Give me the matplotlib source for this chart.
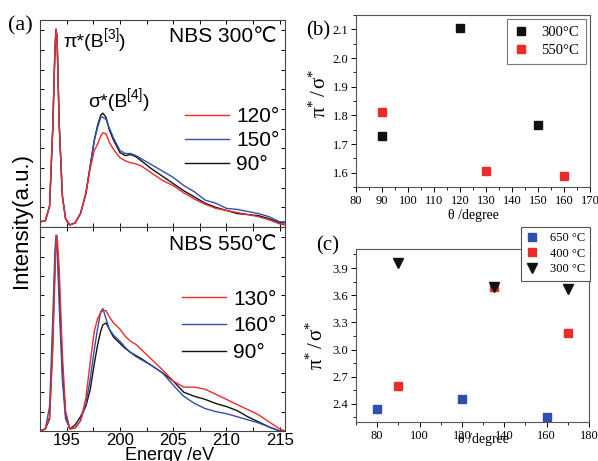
import matplotlib

matplotlib.use("Agg")
import matplotlib.pyplot as plt
from matplotlib.ticker import MultipleLocator

plt.rcParams["mathtext.fontset"] = "custom"
plt.rcParams["mathtext.rm"] = "Liberation Serif"
plt.rcParams["mathtext.it"] = "Liberation Serif:italic"

SANS = ["Liberation Sans", "DejaVu Sans"]
SERIF = ["Liberation Serif", "DejaVu Serif"]
RED = "#ee2b2b"
BLUE = "#2f4fae"
BLACK = "#111111"

# ---- (a) B K-edge spectra (normalised intensity) ----
energy = [192.5, 193.0, 193.4, 193.7, 193.9, 194.0, 194.1, 194.3, 194.6, 194.9,
          195.3, 195.8, 196.3, 196.8, 197.2, 197.6, 197.9, 198.2, 198.4, 198.7,
          199.0, 199.4, 200.0, 200.5, 201.0, 201.5, 202.0, 203.0, 204.0, 205.0,
          206.0, 207.0, 208.0, 209.0, 210.0, 211.0, 212.0, 213.0, 214.0, 215.0,
          215.5]

# NBS 300 C
top_120 = [0.025, 0.03, 0.10, 0.48, 0.85, 0.955, 0.92, 0.50, 0.15, 0.04,
           0.01, 0.02, 0.065, 0.16, 0.28, 0.37, 0.40, 0.44, 0.455, 0.45,
           0.41, 0.375, 0.335, 0.32, 0.31, 0.305, 0.295, 0.26, 0.225, 0.20,
           0.165, 0.135, 0.11, 0.09, 0.08, 0.07, 0.06, 0.05, 0.035, 0.015,
           0.01]
top_150 = [0.025, 0.03, 0.10, 0.48, 0.85, 0.955, 0.92, 0.50, 0.15, 0.04,
           0.01, 0.02, 0.065, 0.16, 0.29, 0.42, 0.48, 0.53, 0.53, 0.52,
           0.48, 0.43, 0.37, 0.355, 0.355, 0.345, 0.33, 0.30, 0.27, 0.24,
           0.20, 0.17, 0.13, 0.115, 0.09, 0.085, 0.075, 0.065, 0.05, 0.025,
           0.025]
top_90 = [0.025, 0.03, 0.10, 0.48, 0.85, 0.955, 0.92, 0.50, 0.15, 0.04,
          0.01, 0.02, 0.065, 0.16, 0.29, 0.42, 0.49, 0.54, 0.55, 0.53,
          0.47, 0.42, 0.36, 0.345, 0.35, 0.34, 0.32, 0.28, 0.245, 0.21,
          0.175, 0.145, 0.115, 0.095, 0.08, 0.065, 0.06, 0.055, 0.04, 0.02,
          0.02]

# NBS 550 C
bot_130 = [0.0, 0.01, 0.07, 0.40, 0.75, 0.90, 0.96, 0.80, 0.38, 0.10,
           0.01, 0.015, 0.05, 0.16, 0.33, 0.49, 0.55, 0.58, 0.59, 0.59,
           0.56, 0.53, 0.50, 0.465, 0.44, 0.425, 0.40, 0.35, 0.30, 0.245,
           0.215, 0.215, 0.205, 0.18, 0.155, 0.13, 0.105, 0.08, 0.045, 0.01,
           0.0]
bot_160 = [0.0, 0.01, 0.12, 0.55, 0.88, 0.96, 0.92, 0.62, 0.25, 0.06,
           0.01, 0.015, 0.05, 0.13, 0.25, 0.40, 0.50, 0.585, 0.60, 0.55,
           0.50, 0.47, 0.44, 0.41, 0.385, 0.365, 0.35, 0.32, 0.285, 0.225,
           0.17, 0.135, 0.11, 0.095, 0.085, 0.07, 0.055, 0.04, 0.02, 0.0,
           0.0]
bot_90 = [0.0, 0.01, 0.06, 0.45, 0.82, 0.93, 0.93, 0.70, 0.30, 0.08,
          0.01, 0.03, 0.07, 0.12, 0.20, 0.33, 0.42, 0.49, 0.52, 0.53,
          0.50, 0.46, 0.43, 0.405, 0.385, 0.37, 0.355, 0.32, 0.285, 0.245,
          0.19, 0.17, 0.155, 0.135, 0.12, 0.10, 0.07, 0.045, 0.02, 0.0,
          0.0]

# ---- (b) pi*/sigma* ratio vs angle ----
b_theta_300 = [90, 120, 150]
b_ratio_300 = [1.727, 2.105, 1.768]
b_theta_550 = [90, 130, 160]
b_ratio_550 = [1.81, 1.605, 1.59]

# ---- (c) pi*/sigma* ratio vs angle ----
c_theta_650 = [80, 120, 160]
c_ratio_650 = [2.345, 2.45, 2.26]
c_theta_400 = [90, 135, 170]
c_ratio_400 = [2.595, 3.69, 3.18]
c_theta_300 = [90, 135, 170]
c_ratio_300 = [3.96, 3.69, 3.665]

W, H = 598, 461
fig = plt.figure(figsize=(W / 100, H / 100), dpi=100)


def rect(x0, y0, x1, y1):
    """pixel box (top-left origin) -> figure fraction rect"""
    return [x0 / W, 1 - y1 / H, (x1 - x0) / W, (y1 - y0) / H]


def spectrum_axes(ax, show_labels):
    ax.set_xlim(192.5, 215.5)
    ax.set_ylim(0, 1)
    ax.xaxis.set_major_locator(MultipleLocator(5))
    ax.xaxis.set_minor_locator(MultipleLocator(2.5))
    ax.yaxis.set_major_locator(MultipleLocator(0.095))
    ax.tick_params(which="both", direction="in", length=3, width=0.7,
                   top=True, right=True, labelleft=False, pad=1.5,
                   labelfontfamily=SANS)
    ax.tick_params(axis="x", labelbottom=show_labels, labelsize=12)
    for s in ax.spines.values():
        s.set_linewidth(0.8)
        s.set_color("#444444")


def superscript_label(ax, x, y, base, sup):
    t1 = ax.text(x, y, base, transform=ax.transAxes, fontsize=14,
                 family=SANS, va="baseline")
    t2 = ax.annotate(sup, xy=(1, 0.55), xycoords=t1, fontsize=10,
                     family=SANS, va="bottom", ha="left")
    ax.annotate(")", xy=(1, 0), xycoords=(t2, t1), fontsize=14,
                family=SANS, va="bottom", ha="left")


ax_top = fig.add_axes(rect(40, 20, 285, 227))
ax_top.plot(energy, top_90, color=BLACK, lw=1.0, label="90°")
ax_top.plot(energy, top_150, color=BLUE, lw=1.0, label="150°")
ax_top.plot(energy, top_120, color=RED, lw=1.0, label="120°")
spectrum_axes(ax_top, False)
h, l = ax_top.get_legend_handles_labels()
ax_top.legend([h[2], h[1], h[0]], [l[2], l[1], l[0]], loc="upper left",
              bbox_to_anchor=(0.592, 0.58), frameon=False, borderpad=0,
              borderaxespad=0, handlelength=2.1, handletextpad=0.35,
              labelspacing=0.25, prop={"family": SANS, "size": 15})
ax_top.text(0.967, 0.965, "NBS 300℃", transform=ax_top.transAxes,
            ha="right", va="top", fontsize=15, family=SANS)
superscript_label(ax_top, 0.094, 0.87, "π*(B", "[3]")
superscript_label(ax_top, 0.196, 0.58, "σ*(B", "[4]")

ax_bot = fig.add_axes(rect(40, 227, 285, 431))
ax_bot.plot(energy, bot_90, color=BLACK, lw=1.0, label="90°")
ax_bot.plot(energy, bot_160, color=BLUE, lw=1.0, label="160°")
ax_bot.plot(energy, bot_130, color=RED, lw=1.0, label="130°")
spectrum_axes(ax_bot, True)
h, l = ax_bot.get_legend_handles_labels()
ax_bot.legend([h[2], h[1], h[0]], [l[2], l[1], l[0]], loc="upper left",
              bbox_to_anchor=(0.58, 0.693), frameon=False, borderpad=0,
              borderaxespad=0, handlelength=2.1, handletextpad=0.35,
              labelspacing=0.37, prop={"family": SANS, "size": 15})
ax_bot.text(0.967, 0.96, "NBS 550℃", transform=ax_bot.transAxes,
            ha="right", va="top", fontsize=15, family=SANS)

fig.text(21 / W, 1 - 220 / H, "Intensity(a.u.)", rotation=90, ha="center",
         va="center", fontsize=16, family=SANS)
fig.text(170 / W, 1 - 447 / H, "Energy /eV", ha="center", va="top",
         fontsize=13, family=SANS)
fig.text(8 / W, 1 - 30 / H, "(a)", fontsize=16, family=SERIF)


def ratio_axes(ax):
    ax.tick_params(which="both", direction="out", top=False, right=False,
                   labelsize=9, pad=2, labelfontfamily=SERIF)
    ax.tick_params(which="major", length=3.5, width=0.7)
    ax.tick_params(which="minor", length=2, width=0.6)
    for s in ax.spines.values():
        s.set_linewidth(0.8)
        s.set_color("#555555")
    ax.set_ylabel(r"$\mathrm{π}^{*}\,/\,\mathrm{σ}^{*}$", fontsize=15)


ax_b = fig.add_axes(rect(356, 15, 590, 187))
ax_b.plot(b_theta_300, b_ratio_300, "s", color=BLACK, ms=5.5, label="300°C")
ax_b.plot(b_theta_550, b_ratio_550, "s", color=RED, ms=5.5, label="550°C")
ax_b.set_xlim(80, 170)
ax_b.set_ylim(1.55, 2.15)
ax_b.xaxis.set_major_locator(MultipleLocator(10))
ax_b.xaxis.set_minor_locator(MultipleLocator(5))
ax_b.yaxis.set_major_locator(MultipleLocator(0.1))
ax_b.yaxis.set_minor_locator(MultipleLocator(0.05))
ratio_axes(ax_b)
ax_b.yaxis.set_label_coords(-0.111, 0.547)
ax_b.set_xlabel("θ /degree", fontsize=10, family=SERIF)
ax_b.xaxis.set_label_coords(0.5, -0.128)
leg = ax_b.legend(loc="upper right", fancybox=False, edgecolor="#555555",
                  borderaxespad=0.3, handlelength=1.0, handletextpad=0.9,
                  labelspacing=0.35, borderpad=0.45,
                  prop={"family": SERIF, "size": 10.5})
leg.get_frame().set_linewidth(0.8)
fig.text(306 / W, 1 - 35 / H, "(b)", fontsize=15, family=SERIF)

ax_c = fig.add_axes(rect(356, 249, 589, 422))
ax_c.plot(c_theta_650, c_ratio_650, "s", color=BLUE, ms=5.5, label="650 °C")
ax_c.plot(c_theta_400, c_ratio_400, "s", color=RED, ms=5.5, label="400 °C")
ax_c.plot(c_theta_300, c_ratio_300, "v", color=BLACK, ms=6.5, label="300 °C")
ax_c.set_xlim(70, 180)
ax_c.set_ylim(2.2, 4.11)
ax_c.xaxis.set_major_locator(MultipleLocator(20))
ax_c.xaxis.set_minor_locator(MultipleLocator(10))
ax_c.yaxis.set_major_locator(MultipleLocator(0.3))
ax_c.yaxis.set_minor_locator(MultipleLocator(0.15))
ratio_axes(ax_c)
ax_c.yaxis.set_label_coords(-0.124, 0.445)
ax_c.set_xlabel("θ /degree", fontsize=10, family=SERIF)
ax_c.xaxis.set_label_coords(0.545, -0.064)
leg = ax_c.legend(loc="upper right", bbox_to_anchor=(590 / W, 1 - 227 / H),
                  bbox_transform=fig.transFigure, fancybox=False,
                  edgecolor="#555555", borderaxespad=0, handlelength=1.0,
                  handletextpad=0.9, labelspacing=0.3, borderpad=0.4,
                  framealpha=1, prop={"family": SERIF, "size": 9})
leg.get_frame().set_linewidth(0.8)
fig.text(316 / W, 1 - 250 / H, "(c)", fontsize=15, family=SERIF)

fig.savefig("out.png", dpi=100)
plt.close(fig)
